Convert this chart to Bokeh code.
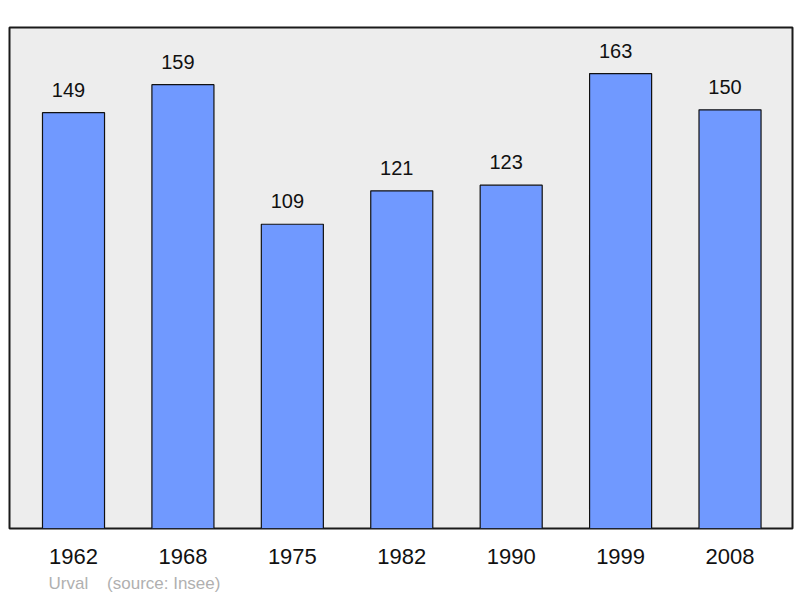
from bokeh.plotting import figure
from bokeh.models import Range1d, FixedTicker, ColumnDataSource, Title
from bokeh.core.properties import value
from bokeh.embed import file_html
from bokeh.resources import INLINE

years = ["1962", "1968", "1975", "1982", "1990", "1999", "2008"]
population = [149, 159, 109, 121, 123, 163, 150]
place = "Urval"
source_note = "(source: Insee)"

xs = list(range(len(years)))
src = ColumnDataSource(dict(x=xs, top=population, label=[str(v) for v in population]))

p = figure(width=800, height=598, output_backend="svg", toolbar_location=None,
           x_range=Range1d(-0.585, 6.571), y_range=Range1d(0, 179.5),
           min_border_left=9, min_border_right=8, min_border_top=27, min_border_bottom=8)
p.background_fill_color = "#ededed"
p.border_fill_color = "white"
p.outline_line_color = "#1a1a1a"
p.outline_line_width = 2
p.grid.visible = False
p.yaxis.visible = False

p.vbar(x="x", top="top", width=0.567, bottom=0, source=src,
       fill_color="#7099ff", line_color="#111111", line_width=1.2)
p.text(x="x", y="top", text="label", source=src, text_align="center",
       text_baseline="alphabetic", x_offset=-5, y_offset=-23,
       text_font=value("Liberation Sans"),
       text_font_size="20px", text_color="#111111")

ax = p.xaxis[0]
ax.ticker = FixedTicker(ticks=xs)
ax.major_label_overrides = {i: y for i, y in zip(xs, years)}
ax.axis_line_color = None
ax.major_tick_line_color = None
ax.minor_tick_line_color = None
ax.major_label_standoff = 14
ax.major_label_text_font = "Liberation Sans"
ax.major_label_text_font_size = "22px"
ax.major_label_text_color = "#111111"

t = Title(text=place + "\u00a0\u00a0\u00a0\u00a0" + source_note, align="left", offset=39,
          standoff=11, text_font="Liberation Sans", text_font_size="17px",
          text_font_style="normal", text_color="#b0b0b0")
p.add_layout(t, "below")

open("out.html", "w").write(file_html(p, INLINE))
